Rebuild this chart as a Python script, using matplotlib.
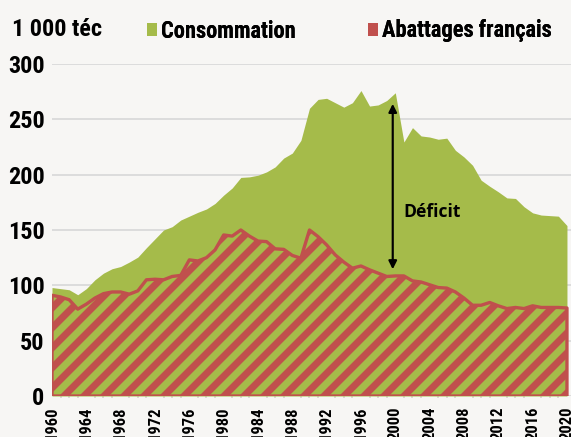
import matplotlib
matplotlib.use("Agg")
import matplotlib.pyplot as plt
from matplotlib import font_manager
from matplotlib.patches import Patch
import numpy as np

years = list(range(1960, 2021))
consommation = [98, 97, 96, 91.5, 97, 105, 111, 115, 117, 121,
                125.5, 134, 142, 150, 153, 159, 162.5, 166, 169, 174,
                181.5, 188, 197.5, 198, 199.5, 202.5, 207, 215, 219.5, 231,
                260, 268, 269, 265, 261, 265, 276, 262, 263, 267,
                274, 229.5, 242.5, 235, 234, 232, 233, 222, 216, 208.5,
                195, 189.5, 184.5, 179, 178.5, 171, 165.5, 163.5, 163, 162.5,
                154]
abattages = [91, 89.5, 87, 78.5, 83, 88.5, 92.5, 94, 94, 92,
             95, 105, 105.5, 105, 108, 109, 123, 122, 125, 132,
             145.5, 144.5, 150, 144.5, 140, 139.5, 133, 132.5, 127, 124.5,
             150, 144, 136.5, 127.5, 121, 115.5, 117.5, 114, 111, 108,
             108.5, 108.5, 104, 103, 100.5, 98, 97.5, 94, 88.5, 82,
             82, 84.5, 81.5, 79, 80, 79, 81.5, 80, 80, 80,
             79.5]
year_ticks = list(range(1960, 2021, 4))
y_ticks = [0, 50, 100, 150, 200, 250, 300]
series_labels = ["Consommation", "Abattages français"]

# pick a condensed sans font if one is installed
entries = font_manager.fontManager.ttflist
names = {f.name for f in entries}
cond_family, cond_stretch = "DejaVu Sans", "normal"
for cand in ["Roboto Condensed", "Liberation Sans Narrow", "Open Sans Condensed",
             "Noto Sans Condensed", "DejaVu Sans Condensed"]:
    if cand in names:
        cond_family = cand
        break
else:
    for fam in ["Roboto", "Noto Sans", "Open Sans", "DejaVu Sans", "Liberation Sans"]:
        if any(f.name == fam and str(f.stretch) in ("condensed", "semi-condensed", "75", "87.5")
               for f in entries):
            cond_family, cond_stretch = fam, "condensed"
            break
plt.rcParams["font.family"] = [cond_family, "DejaVu Sans"]
plt.rcParams["font.stretch"] = cond_stretch
plt.rcParams["hatch.linewidth"] = 4.2
WEIGHT = "bold"

BG = "#f7f6f4"
GREEN = "#a5bb4a"
RED = "#c0504d"

W, H, DPI = 571, 437, 120
fig = plt.figure(figsize=(W / DPI, H / DPI), dpi=DPI, facecolor=BG)
ax = fig.add_axes([52 / W, (H - 396) / H, (W - 52) / W, (396 - 64) / H])
ax.set_facecolor(BG)

ax.fill_between(years, 0, consommation, color=GREEN, lw=0, zorder=2)
ax.fill_between(years, 0, abattages, facecolor="none", edgecolor=RED,
                hatch="//", lw=2, zorder=3)

ax.set_xlim(1960, 2020.47)
ax.set_ylim(0, 300)
ax.set_yticks(y_ticks)
ax.set_yticklabels([str(v) for v in y_ticks], fontweight=WEIGHT)
ax.set_xticks(year_ticks)
ax.set_xticks(years, minor=True)
ax.set_xticklabels([str(y) for y in year_ticks], rotation=90, va="top",
                   fontweight=WEIGHT)
ax.tick_params(axis="y", length=0, pad=4.5, labelsize=14.5, colors="black")
ax.tick_params(axis="x", which="major", length=0, pad=6.5, labelsize=10)
ax.tick_params(axis="x", which="minor", length=2.5, width=1, color="#d8d0d0",
               direction="inout")
ax.grid(axis="y", color="#dcdcdc", lw=1.2, zorder=0)
for s in ax.spines.values():
    s.set_visible(False)
ax.set_axisbelow(True)

# Deficit arrow
ax.annotate("", xy=(1999.7, 264), xytext=(1999.7, 114.5),
            arrowprops=dict(arrowstyle="<|-|>", color="black", lw=1.3,
                            mutation_scale=10, shrinkA=0, shrinkB=0), zorder=5)
ax.text(2000.9, 166.5, "Déficit", fontsize=10.5, fontweight="bold",
        family=["Open Sans", "DejaVu Sans"], stretch="normal",
        va="center", ha="left", zorder=5)

fig.text(12 / W, 1 - 30 / H, "1 000 téc", fontsize=14.5, fontweight=WEIGHT,
         va="center", ha="left")

for color, label, x0 in [(GREEN, series_labels[0], 147), (RED, series_labels[1], 368)]:
    leg = fig.legend([Patch(facecolor=color, edgecolor="none")], [label],
                     loc="center left", bbox_to_anchor=(x0 / W, 1 - 31 / H),
                     frameon=False, handlelength=0.45,
                     prop=dict(size=13.5, weight=WEIGHT),
                     handleheight=0.45, handletextpad=0.15, borderpad=0,
                     borderaxespad=0)
    fig.add_artist(leg)

fig.savefig("out.png", dpi=DPI, facecolor=BG)
